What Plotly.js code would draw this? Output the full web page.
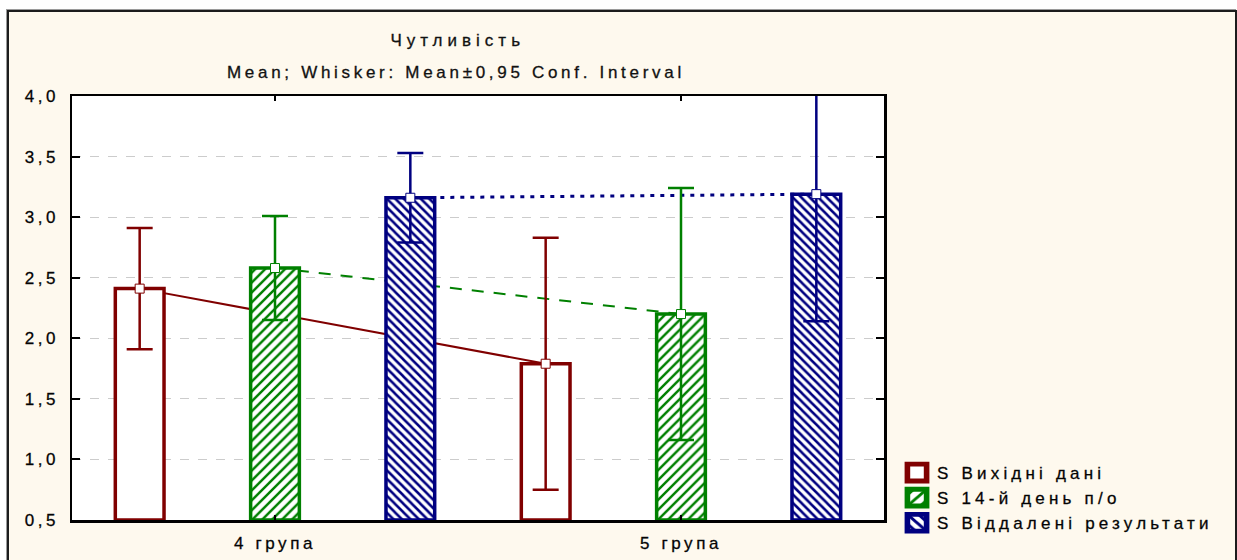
<!DOCTYPE html>
<html>
<head>
<meta charset="utf-8">
<script src="https://cdn.plot.ly/plotly-3.0.1.min.js"></script>
<style>
  html, body { margin: 0; padding: 0; background: #ffffff; }
  #frame {
    position: absolute; left: 7px; top: 10px; width: 1230px; height: 560px;
    box-sizing: border-box; background: #FEF9EE;
    border-left: 2px solid #1c1c1c; border-top: 2px solid #1c1c1c; border-right: 2px solid #1c1c1c;
    box-shadow: -1px -1px 0 #9a9a9a;
  }
  #chart { position: absolute; left: 0; top: 0; width: 1237px; height: 560px; }
  .legendtext { letter-spacing: 4.2px; }
  .ytick text { letter-spacing: 3.6px; }
  .xtick text { letter-spacing: 3.6px; }
  .gtitle { letter-spacing: 5px; }
  .annotation-text { letter-spacing: 3.7px; }
  .legendtext, .ytick text, .xtick text, .gtitle, .annotation-text { stroke: #111; stroke-width: 0.3px; }
</style>
</head>
<body>
<div id="frame"></div>
<div id="chart"></div>
<script>
// ---- data ----
const groups = ['4 група', '5 група'];
const seriesNames = ['S Вихідні дані', 'S 14-й день п/о', 'S Віддалені результати'];
const meanVykhidni = [2.41, 1.79];
const mean14Den = [2.58, 2.20];
const meanViddaleni = [3.16, 3.19];
const ciVykhidni = [0.50, 1.04];
const ci14Den = [0.43, 1.04];
const ciViddaleni = [0.37, 1.05];
const yTickVals = [0.5, 1.0, 1.5, 2.0, 2.5, 3.0, 3.5, 4.0];

// ---- styling ----
const means = [meanVykhidni, mean14Den, meanViddaleni];
const cis = [ciVykhidni, ci14Den, ciViddaleni];
const colors = ['#800000', '#008000', '#000080'];
const patterns = [
  {shape: ''},
  {shape: '/', fgcolor: '#008000', bgcolor: '#ffffff', size: 7, solidity: 0.35, fillmode: 'replace'},
  {shape: '\\', fgcolor: '#000080', bgcolor: '#ffffff', size: 6, solidity: 0.42, fillmode: 'replace'}
];
const lineDash = ['solid', '12px,10px', '4px,6px'];
const lineWidth = [2, 2, 3];
const nS = seriesNames.length;
const xPos = s => groups.map((g, gi) => gi * nS + s);
const FONT = 'Liberation Sans, Arial, sans-serif';
const BASE = 0.5;

const traces = [];
// connecting lines (beneath the bars, on the base subplot)
for (let s = 0; s < nS; s++) {
  traces.push({
    type: 'scatter', mode: 'lines', x: xPos(s), y: means[s],
    xaxis: 'x', yaxis: 'y', showlegend: false, hoverinfo: 'skip',
    line: {color: colors[s], width: lineWidth[s], dash: lineDash[s]}
  });
}
// bars with CI whiskers (overlay subplot, above the lines)
for (let s = 0; s < nS; s++) {
  traces.push({
    type: 'bar', name: seriesNames[s], x: xPos(s), y: means[s].map(v => v - BASE),
    base: BASE, width: 0.36, xaxis: 'x2', yaxis: 'y2',
    marker: {color: '#ffffff', line: {color: colors[s], width: 3.5}, pattern: patterns[s]},
    error_y: {type: 'data', array: cis[s], visible: true, color: colors[s], thickness: 2.5, width: 13}
  });
}
// mean markers
for (let s = 0; s < nS; s++) {
  traces.push({
    type: 'scatter', mode: 'markers', x: xPos(s), y: means[s],
    xaxis: 'x2', yaxis: 'y2', showlegend: false, hoverinfo: 'skip',
    marker: {symbol: 'square', size: 9, color: '#ffffff', line: {color: colors[s], width: 1}}
  });
}

const xRange = [-0.5, groups.length * nS - 0.5];
const yRange = [0.5, 4.0];

const layout = {
  width: 1237, height: 560,
  margin: {l: 72, r: 353, t: 96, b: 40},
  paper_bgcolor: 'rgba(0,0,0,0)', plot_bgcolor: '#ffffff',
  separators: ', ',
  font: {family: FONT, color: '#111111', size: 16},
  showlegend: true,
  barmode: 'overlay',
  title: {
    text: 'Чутливість', x: 0.475, xref: 'paper', xanchor: 'center',
    y: 1 - 40 / 560, yref: 'container', yanchor: 'middle',
    font: {family: FONT, size: 17, color: '#111111'}
  },
  annotations: [{
    text: 'Mean; Whisker: Mean±0,95 Conf. Interval', showarrow: false,
    xref: 'paper', yref: 'paper', x: 0.473, y: (520 - 73) / 424,
    xanchor: 'center', yanchor: 'middle',
    font: {family: FONT, size: 17, color: '#111111'}
  }],
  xaxis: {
    range: xRange, tickvals: groups.map((g, gi) => gi * nS + (nS - 1) / 2), ticktext: groups,
    ticks: 'inside', ticklen: 5, tickwidth: 2, tickcolor: '#000',
    showline: true, linewidth: 2.5, linecolor: '#000', mirror: 'ticks',
    showgrid: false, zeroline: false, fixedrange: true,
    ticklabelstandoff: 6,
    tickfont: {family: FONT, size: 17, color: '#000'}
  },
  yaxis: {
    range: yRange, tickvals: yTickVals, tickformat: '.1f',
    ticks: 'inside', ticklen: 8, tickwidth: 2, tickcolor: '#000',
    showline: true, linewidth: 2.5, linecolor: '#000', mirror: 'ticks',
    showgrid: true, gridcolor: '#cccccc', gridwidth: 1, griddash: 'dash',
    zeroline: false, fixedrange: true,
    ticklabelstandoff: 7,
    tickfont: {family: FONT, size: 17, color: '#000'}
  },
  xaxis2: {overlaying: 'x', range: xRange, visible: false, fixedrange: true},
  yaxis2: {overlaying: 'y', range: yRange, visible: false, fixedrange: true},
  legend: {
    x: (897 - 72) / 812, xanchor: 'left', y: (520 - 455) / 424, yanchor: 'top',
    bgcolor: 'rgba(0,0,0,0)', borderwidth: 0,
    font: {family: FONT, size: 17, color: '#000'},
    traceorder: 'normal'
  }
};

Plotly.newPlot('chart', traces, layout, {displayModeBar: false, staticPlot: true}).then(() => {
  // enlarge legend swatches to the reference's box size
  document.querySelectorAll('.legendpoints path').forEach(p => {
    const t = p.getAttribute('transform') || '';
    p.setAttribute('transform', t + ' scale(1.6,1.4)');
  });
});
</script>
</body>
</html>
